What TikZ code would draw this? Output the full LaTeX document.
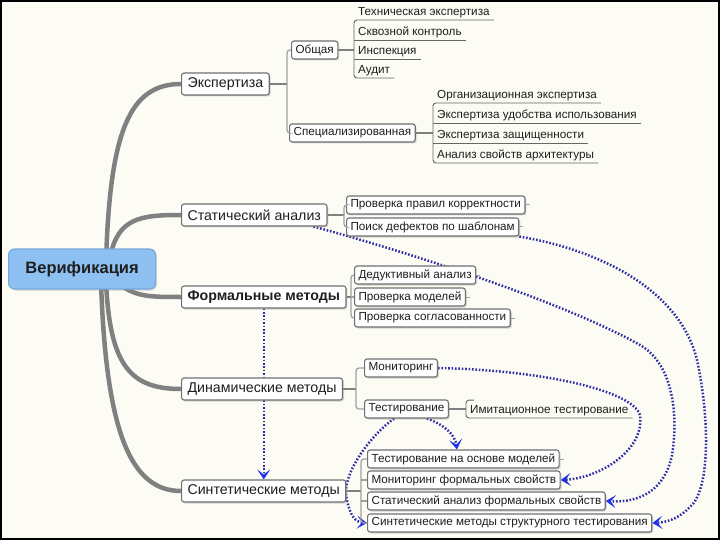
\documentclass[tikz,border=0pt]{standalone}
\usepackage{fontspec}
\setmainfont{Liberation Sans}
\usetikzlibrary{shadows,arrows.meta,calc}
\definecolor{fond}{RGB}{252,252,245}
\definecolor{gris}{RGB}{128,128,128}
\definecolor{bord}{RGB}{112,112,112}
\definecolor{bleu}{RGB}{142,193,242}
\definecolor{bleubord}{RGB}{118,168,222}
\definecolor{encre}{RGB}{30,30,30}
\definecolor{pointille}{RGB}{45,45,165}
\definecolor{pointe}{RGB}{30,50,235}
\pgfdeclarelayer{fondplan}
\pgfdeclarelayer{renvois}
\pgfsetlayers{fondplan,renvois,main}
\begin{document}
\begin{tikzpicture}[x=1pt,y=-1pt,
		boite/.style={draw=bord, line width=1.1pt, rounded corners=2.5pt, fill=white, text=encre,
			drop shadow={shadow xshift=1.5pt,shadow yshift=-1.5pt,opacity=0.3}},
		racine/.style={boite, draw=bleubord, fill=bleu, rounded corners=6pt, minimum width=147pt,
			minimum height=40pt, anchor=west, font=\fontsize{16.5}{18}\selectfont\bfseries},
		branche/.style={boite, minimum height=22pt, inner xsep=6pt, anchor=west, font=\fontsize{14.2}{15}\selectfont},
		sous/.style={boite, minimum height=18pt, inner xsep=4pt, inner ysep=1pt, anchor=west, font=\fontsize{11.7}{12}\selectfont},
		feuille/.style={inner xsep=4pt, inner ysep=2pt, anchor=south west, text=encre, font=\fontsize{11.7}{12}\selectfont},
		tronc/.style={draw=gris, line width=4.5pt, line cap=round},
		lien/.style={draw=gris, line width=2.5pt},
		fil/.style={draw=gris!75, line width=1.3pt, rounded corners=3pt},
		trait/.style={draw=black!60, line width=0.9pt, rounded corners=3pt},
		renvoi/.style={draw=pointille, line width=2.5pt, dash pattern=on 1.6pt off 1.8pt,
			-{Stealth[length=10pt,width=13pt,inset=5pt,color=pointe]}}]
	\useasboundingbox (0,0) rectangle (720,540);
	% centre et branches principales
	\node[racine] (verif) at (8,269) {Верификация};
	\node[branche] (exp) at (181,84) {Экспертиза};
	\node[branche] (stat) at (181,215) {Статический анализ};
	\node[branche, font=\fontsize{14.2}{15}\selectfont\bfseries] (form) at (181,297) {Формальные методы};
	\node[branche] (dyn) at (181,389) {Динамические методы};
	\node[branche] (sint) at (181,491) {Синтетические методы};
	% Экспертиза
	\node[sous] (obsh) at (291,50) {Общая};
	\node[sous] (spec) at (289,133) {Специализированная};
	\node[feuille] (tech) at (354,20) {Техническая экспертиза};
	\node[feuille] (skv) at (354,40) {Сквозной контроль};
	\node[feuille] (insp) at (354,59) {Инспекция};
	\node[feuille] (aud) at (354,78) {Аудит};
	\node[feuille] (org) at (433,103) {Организационная экспертиза};
	\node[feuille] (udob) at (433,123) {Экспертиза удобства использования};
	\node[feuille] (zasch) at (433,143) {Экспертиза защищенности};
	\node[feuille] (arch) at (433,163) {Анализ свойств архитектуры};
	% Статический анализ, Формальные методы
	\node[sous] (prav) at (346,205) {Проверка правил корректности};
	\node[sous] (poisk) at (346,227) {Поиск дефектов по шаблонам};
	\node[sous] (ded) at (354,275) {Дедуктивный анализ};
	\node[sous] (pmod) at (354,297) {Проверка моделей};
	\node[sous] (sogl) at (354,318) {Проверка согласованности};
	% Динамические методы
	\node[sous] (mon) at (364,368) {Мониторинг};
	\node[sous] (test) at (364,409) {Тестирование};
	\node[feuille] (imit) at (466,418) {Имитационное тестирование};
	% Синтетические методы
	\node[sous] (tom) at (367,459) {Тестирование на основе моделей};
	\node[sous] (mfs) at (367,480) {Мониторинг формальных свойств};
	\node[sous] (safs) at (367,501) {Статический анализ формальных свойств};
	\node[sous] (smst) at (367,523) {Синтетические методы структурного тестирования};

	\begin{pgfonlayer}{fondplan}
		\fill[fond] (0,0) rectangle (720,540);
		\draw[black, line width=2pt] (1,1) rectangle (719,539);
		\draw[tronc] ($(verif.center)+(24,-8)$) .. controls (110,130) and (130,84) .. (exp.west);
		\draw[tronc] ($(verif.center)+(28,-12)$) .. controls (118,218) and (140,215) .. (stat.west);
		\draw[tronc] ($(verif.center)+(36,14)$) .. controls (135,297) and (150,297) .. (form.west);
		\draw[tronc] ($(verif.center)+(24,14)$) .. controls (110,365) and (130,389) .. (dyn.west);
		\draw[tronc] ($(verif.center)+(19,14)$) .. controls (106,430) and (130,491) .. (sint.west);
	\end{pgfonlayer}

	% liaisons
	\coordinate (bexp) at (287,84);
	\coordinate (bstat) at (344,215);
	\coordinate (bform) at (351,297);
	\coordinate (bdyn) at (356,389);
	\coordinate (bsint) at (361,491);
	\draw[lien] (exp.east) -- (bexp);
	\draw[lien] (stat.east) -- (bstat);
	\draw[lien] (form.east) -- (bform);
	\draw[lien] (dyn.east) -- (bdyn);
	\draw[lien] (sint.east) -- (bsint);
	\draw[fil] (obsh.west) -| (bexp) |- (spec.west);
	\draw[fil] (prav.west) -| (bstat) |- (poisk.west);
	\draw[fil] (ded.west) -| (bform) |- (sogl.west);
	\draw[fil] (bform) -- (pmod.west);
	\draw[fil] (mon.west) -| (bdyn) |- (test.west);
	\draw[fil] (tom.west) -| (bsint) |- (smst.west);
	\draw[fil] (bsint |- mfs.west) -- (mfs.west);
	\draw[fil] (bsint |- safs.west) -- (safs.west);
	\foreach \n in {prav,poisk,ded,pmod,sogl,tom}
		\draw[gris!75, line width=1pt] (\n.east) -- ++(4,0);
	% подпункты
	\draw[lien, line width=1.8pt] (obsh.east) -- (obsh.east -| tech.south west);
	\draw[lien, line width=1.8pt] (spec.east) -- (spec.east -| org.south west);
	\draw[lien, line width=1.8pt] (test.east) -- (test.east -| imit.south west);
	\draw[trait] (tech.south east) -- (tech.south west) -- (aud.south west) -- (aud.south east);
	\draw[trait] (org.south east) -- (org.south west) -- (arch.south west) -- (arch.south east);
	\foreach \f in {skv,insp,udob,zasch}
		\draw[trait] (\f.south west) -- (\f.south east);
	\draw[trait] ($(imit.north west)+(8,-3)$) -- ($(imit.north west)+(0,-3)$) -- (imit.south west) -- (imit.south east);
	% renvois
	\begin{pgfonlayer}{renvois}
		\draw[renvoi] (form.south) -- (form.south |- sint.north);
		\draw[renvoi] ($(stat.south east)+(-14,0)$) .. controls (400,250) and (560,300) .. (640,345)
			.. controls (675,365) and (678,420) .. (672,455) .. controls (665,490) and (640,503) .. (safs.east);
		\draw[renvoi] (poisk.south east) .. controls (600,250) and (680,290) .. (697,360)
			.. controls (710,420) and (710,490) .. (690,507) .. controls (680,517) and (670,522) .. (smst.east);
		\draw[renvoi] (mon.east) .. controls (540,370) and (632,390) .. (640,415)
			.. controls (645,450) and (600,478) .. (mfs.east);
		\draw[renvoi] ($(test.south east)+(-22,0)$) .. controls (445,425) and (455,435) .. ($(tom.north west)+(90,0)$);
		\draw[renvoi] ($(test.south west)+(30,0)$) .. controls (365,440) and (340,480) .. (347,500)
			.. controls (350,515) and (355,522) .. (smst.west);
	\end{pgfonlayer}
\end{tikzpicture}
\end{document}
